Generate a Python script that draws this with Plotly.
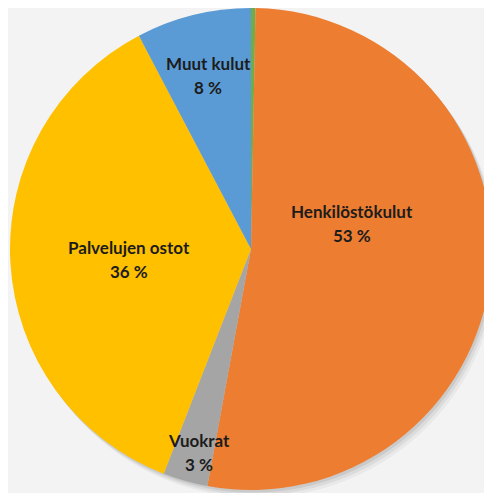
import math
import plotly.graph_objs as go

# Cost breakdown (share of total, %), clockwise from 12 o'clock
categories = ['Muu', 'Henkilöstökulut', 'Vuokrat', 'Palvelujen ostot', 'Muut kulut']
shares = [0.3, 52.6, 3.0, 36.4, 7.7]
colors = ['#70AD47', '#ED7D31', '#A5A5A5', '#FFC000', '#5B9BD5']
show_label = [False, True, True, True, True]

# label placement: (radius fraction, angle shift in degrees from slice mid-angle)
label_place = [None, (0.432, -19.7), (0.873, -1.5), (0.51, -1.5), (0.743, 0.0)]

W, H = 492, 493
# page body has an 8px margin, so the figure is drawn from (8, 8)
M = dict(l=2, r=8, t=0, b=11)

fig = go.Figure(go.Pie(
    labels=categories,
    values=shares,
    sort=False,
    direction='clockwise',
    rotation=0,
    marker=dict(colors=colors, line=dict(width=0)),
    textinfo='none',
    hoverinfo='label+percent',
    showlegend=False,
))

# soft shadow behind the pie
for off, alpha in [(0.012, 0.08), (0.008, 0.12), (0.004, 0.16)]:
    fig.add_shape(type='circle', xref='paper', yref='paper',
                  x0=0 + off, x1=1 + off, y0=0 - off * 1.3, y1=1 - off * 1.3,
                  fillcolor=f'rgba(120,120,120,{alpha})', line=dict(width=0),
                  layer='below')

# data labels, positioned from the cumulative slice angles
total = sum(shares)
start = 0.0
for cat, val, show, place in zip(categories, shares, show_label, label_place):
    sweep = val / total * 360
    mid = start + sweep / 2
    start += sweep
    if not show:
        continue
    rf, shift = place
    a = math.radians(mid + shift)
    x = 0.5 + 0.5 * rf * math.sin(a)
    y = 0.5 + 0.5 * rf * math.cos(a)
    pct = f'{round(val / total * 100)} %'
    for txt, dy in [(cat, 12), (pct, -12)]:
        fig.add_annotation(x=x, y=y, xref='paper', yref='paper', text=txt,
                           showarrow=False, yshift=dy,
                           xanchor='center', yanchor='middle',
                           font=dict(family='Lato', size=17, color='#1c1c1c', weight='bold'))

fig.update_layout(
    width=W, height=H,
    margin=M,
    paper_bgcolor='#f3f3f3',
    plot_bgcolor='#f3f3f3',
)

fig.write_html('out.html')
